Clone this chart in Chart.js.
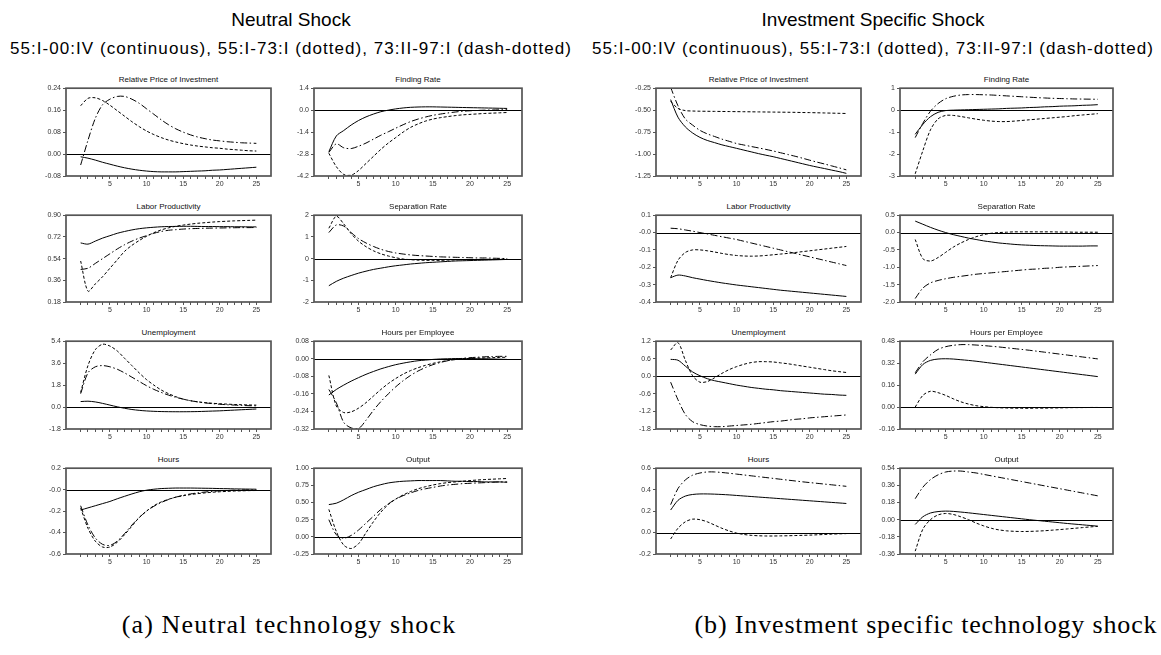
<!DOCTYPE html>
<html><head><meta charset="utf-8">
<script src="https://cdn.jsdelivr.net/npm/chart.js@4.4.1/dist/chart.umd.min.js"></script>
<style>
body{margin:0;background:#fff;width:1161px;height:655px;position:relative;overflow:hidden;font-family:"Liberation Sans",Arial,sans-serif;}
.h{position:absolute;text-align:center;color:#000;white-space:nowrap}
.pt{position:absolute;text-align:center;font-size:8px;line-height:10px;color:#111;white-space:nowrap}
canvas{position:absolute}
.cap{font-family:'Liberation Serif',serif;font-size:26px;line-height:30px;letter-spacing:1px}
.sub{font-size:17px;line-height:18px;letter-spacing:1.05px}
</style></head><body>
<div class="h" style="left:0;width:582px;top:8px;font-size:19px;line-height:24px">Neutral Shock</div>
<div class="h sub" style="left:0;width:582px;top:40px">55:I-00:IV (continuous), 55:I-73:I (dotted), 73:II-97:I (dash-dotted)</div>
<div class="h" style="left:583px;width:580px;top:8px;font-size:19px;line-height:24px">Investment Specific Shock</div>
<div class="h sub" style="left:583px;width:580px;top:40px">55:I-00:IV (continuous), 55:I-73:I (dotted), 73:II-97:I (dash-dotted)</div>
<div class="h cap" style="left:-1px;width:580px;top:610px;letter-spacing:1.15px">(a) Neutral technology shock</div>
<div class="h cap" style="left:636px;width:580px;top:610px;letter-spacing:0.85px">(b) Investment specific technology shock</div>
<script>
const periods=[1,2,3,4,5,6,7,8,9,10,11,12,13,14,15,16,17,18,19,20,21,22,23,24,25];

// ---- Neutral shock ----
const nRelPriceCont=[-0.01,-0.015,-0.022,-0.03,-0.037,-0.044,-0.05,-0.055,-0.059,-0.062,-0.064,-0.065,-0.065,-0.065,-0.064,-0.063,-0.062,-0.061,-0.059,-0.058,-0.056,-0.054,-0.052,-0.05,-0.048];
const nRelPriceDot=[0.176,0.203,0.205,0.195,0.178,0.158,0.138,0.118,0.1,0.084,0.071,0.06,0.051,0.044,0.038,0.033,0.029,0.026,0.023,0.021,0.018,0.016,0.014,0.012,0.011];
const nRelPriceDash=[-0.04,0.05,0.13,0.18,0.2,0.21,0.21,0.2,0.185,0.165,0.145,0.125,0.107,0.092,0.08,0.07,0.062,0.056,0.051,0.048,0.045,0.043,0.041,0.04,0.039];
const nRelPriceTicks=[-0.08,0,0.08,0.16,0.24];
const nRelPriceLabels=["-0.08","0.00","0.08","0.16","0.24"];

const nFindCont=[-2.65,-1.65,-1.3,-0.95,-0.66,-0.43,-0.25,-0.1,0.0,0.08,0.14,0.18,0.2,0.21,0.21,0.2,0.19,0.18,0.17,0.16,0.15,0.14,0.13,0.12,0.11];
const nFindDot=[-2.75,-3.6,-4.1,-4.15,-3.85,-3.4,-2.95,-2.5,-2.1,-1.75,-1.4,-1.1,-0.88,-0.7,-0.57,-0.48,-0.41,-0.35,-0.3,-0.27,-0.24,-0.21,-0.19,-0.17,-0.15];
const nFindDash=[-2.7,-2.15,-2.4,-2.45,-2.3,-2.1,-1.85,-1.6,-1.38,-1.15,-0.93,-0.73,-0.57,-0.44,-0.33,-0.25,-0.18,-0.12,-0.07,-0.04,-0.02,0.0,0.01,0.02,0.03];
const nFindTicks=[-4.2,-2.8,-1.4,0,1.4];
const nFindLabels=["-4.2","-2.8","-1.4","0.0","1.4"];

const nProdCont=[0.67,0.66,0.685,0.71,0.73,0.75,0.765,0.778,0.788,0.795,0.8,0.804,0.806,0.807,0.808,0.808,0.807,0.806,0.806,0.805,0.805,0.804,0.804,0.803,0.803];
const nProdDot=[0.52,0.27,0.33,0.39,0.46,0.53,0.6,0.65,0.69,0.725,0.755,0.778,0.795,0.808,0.818,0.826,0.833,0.838,0.843,0.847,0.85,0.853,0.855,0.857,0.859];
const nProdDash=[0.45,0.46,0.5,0.54,0.58,0.62,0.655,0.685,0.71,0.73,0.75,0.765,0.775,0.78,0.785,0.788,0.79,0.792,0.793,0.794,0.795,0.796,0.797,0.797,0.798];
const nProdTicks=[0.18,0.36,0.54,0.72,0.9];
const nProdLabels=["0.18","0.36","0.54","0.72","0.90"];

const nSepCont=[-1.25,-1.05,-0.9,-0.78,-0.67,-0.58,-0.5,-0.44,-0.38,-0.33,-0.29,-0.25,-0.22,-0.19,-0.17,-0.15,-0.13,-0.11,-0.1,-0.09,-0.08,-0.07,-0.06,-0.05,-0.04];
const nSepDot=[1.4,1.95,1.6,1.15,0.8,0.55,0.36,0.22,0.12,0.04,-0.02,-0.05,-0.07,-0.08,-0.08,-0.08,-0.07,-0.06,-0.05,-0.04,-0.04,-0.03,-0.03,-0.02,-0.02];
const nSepDash=[1.2,1.55,1.5,1.2,0.92,0.72,0.56,0.43,0.33,0.26,0.21,0.17,0.14,0.12,0.1,0.08,0.07,0.06,0.05,0.04,0.03,0.03,0.02,0.01,0.0];
const nSepTicks=[-2,-1,0,1,2];
const nSepLabels=["-2","-1","0","1","2"];

const nUnempCont=[0.45,0.48,0.42,0.3,0.16,0.02,-0.1,-0.2,-0.27,-0.32,-0.35,-0.37,-0.38,-0.385,-0.385,-0.38,-0.37,-0.35,-0.33,-0.31,-0.28,-0.25,-0.22,-0.19,-0.16];
const nUnempDot=[1.2,3.4,4.7,5.15,5.0,4.6,4.0,3.4,2.8,2.25,1.8,1.4,1.1,0.85,0.65,0.52,0.43,0.36,0.31,0.27,0.24,0.21,0.19,0.17,0.16];
const nUnempDash=[1.1,2.8,3.3,3.4,3.3,3.1,2.8,2.45,2.1,1.75,1.45,1.2,0.98,0.8,0.65,0.52,0.42,0.34,0.28,0.23,0.19,0.16,0.13,0.11,0.1];
const nUnempTicks=[-1.8,0,1.8,3.6,5.4];
const nUnempLabels=["-1.8","0.0","1.8","3.6","5.4"];

const nHpeCont=[-0.165,-0.14,-0.12,-0.102,-0.086,-0.071,-0.058,-0.046,-0.036,-0.027,-0.02,-0.014,-0.009,-0.006,-0.003,-0.001,0.0,0.001,0.001,0.001,0.0,0.0,-0.001,-0.002,-0.003];
const nHpeDot=[-0.076,-0.215,-0.245,-0.242,-0.225,-0.2,-0.17,-0.14,-0.113,-0.09,-0.07,-0.054,-0.041,-0.03,-0.021,-0.014,-0.008,-0.004,-0.001,0.001,0.003,0.004,0.005,0.006,0.007];
const nHpeDash=[-0.14,-0.2,-0.29,-0.315,-0.318,-0.28,-0.235,-0.195,-0.16,-0.128,-0.1,-0.076,-0.056,-0.04,-0.027,-0.017,-0.009,-0.003,0.002,0.005,0.007,0.009,0.01,0.011,0.011];
const nHpeTicks=[-0.32,-0.24,-0.16,-0.08,0,0.08];
const nHpeLabels=["-0.32","-0.24","-0.16","-0.08","0.00","0.08"];

const nHoursCont=[-0.19,-0.17,-0.15,-0.13,-0.11,-0.085,-0.062,-0.04,-0.02,-0.005,0.004,0.01,0.013,0.015,0.015,0.015,0.014,0.013,0.012,0.01,0.009,0.007,0.006,0.005,0.004];
const nHoursDot=[-0.17,-0.36,-0.48,-0.535,-0.535,-0.49,-0.42,-0.34,-0.26,-0.2,-0.15,-0.115,-0.09,-0.07,-0.057,-0.046,-0.037,-0.03,-0.024,-0.02,-0.016,-0.013,-0.011,-0.009,-0.008];
const nHoursDash=[-0.15,-0.33,-0.45,-0.51,-0.52,-0.48,-0.41,-0.33,-0.26,-0.2,-0.155,-0.12,-0.092,-0.07,-0.053,-0.04,-0.03,-0.022,-0.016,-0.011,-0.008,-0.005,-0.003,-0.002,-0.001];
const nHoursTicks=[-0.6,-0.4,-0.2,0,0.2];
const nHoursLabels=["-0.6","-0.4","-0.2","-0.0","0.2"];

const nOutCont=[0.47,0.49,0.54,0.6,0.65,0.69,0.73,0.76,0.785,0.8,0.81,0.815,0.82,0.82,0.82,0.82,0.815,0.81,0.81,0.805,0.805,0.8,0.8,0.8,0.795];
const nOutDot=[0.4,0.08,-0.12,-0.17,-0.1,0.06,0.22,0.36,0.47,0.55,0.61,0.66,0.7,0.73,0.755,0.775,0.79,0.8,0.81,0.82,0.828,0.835,0.84,0.845,0.85];
const nOutDash=[0.25,0.03,-0.02,0.02,0.1,0.2,0.3,0.4,0.48,0.55,0.6,0.64,0.675,0.7,0.72,0.74,0.755,0.765,0.775,0.78,0.785,0.79,0.795,0.8,0.8];
const nOutTicks=[-0.25,0,0.25,0.5,0.75,1.0];
const nOutLabels=["-0.25","0.00","0.25","0.50","0.75","1.00"];

// ---- Investment specific shock ----
const iRelPriceCont=[-0.38,-0.58,-0.69,-0.76,-0.81,-0.845,-0.87,-0.895,-0.915,-0.935,-0.955,-0.975,-0.995,-1.013,-1.03,-1.05,-1.07,-1.09,-1.11,-1.13,-1.148,-1.165,-1.183,-1.2,-1.22];
const iRelPriceDot=[-0.4,-0.48,-0.505,-0.51,-0.512,-0.513,-0.514,-0.515,-0.516,-0.517,-0.518,-0.519,-0.52,-0.521,-0.522,-0.523,-0.524,-0.525,-0.527,-0.528,-0.53,-0.532,-0.534,-0.536,-0.538];
const iRelPriceDash=[-0.24,-0.45,-0.6,-0.67,-0.73,-0.77,-0.8,-0.83,-0.855,-0.88,-0.897,-0.914,-0.93,-0.947,-0.965,-0.985,-1.005,-1.025,-1.047,-1.07,-1.092,-1.113,-1.135,-1.157,-1.18];
const iRelPriceTicks=[-1.25,-1.0,-0.75,-0.5,-0.25];
const iRelPriceLabels=["-1.25","-1.00","-0.75","-0.50","-0.25"];

const iFindCont=[-1.1,-0.65,-0.3,-0.1,-0.02,0.0,0.01,0.02,0.03,0.04,0.05,0.06,0.08,0.09,0.1,0.12,0.13,0.15,0.16,0.18,0.19,0.2,0.22,0.23,0.25];
const iFindDot=[-2.9,-1.85,-0.9,-0.4,-0.24,-0.24,-0.29,-0.35,-0.41,-0.46,-0.5,-0.52,-0.52,-0.5,-0.47,-0.44,-0.41,-0.38,-0.35,-0.32,-0.29,-0.25,-0.22,-0.19,-0.16];
const iFindDash=[-1.25,-0.6,-0.05,0.3,0.52,0.63,0.69,0.71,0.71,0.7,0.69,0.67,0.65,0.63,0.61,0.59,0.57,0.555,0.54,0.53,0.52,0.51,0.505,0.5,0.495];
const iFindTicks=[-3,-2,-1,0,1];
const iFindLabels=["-3","-2","-1","0","1"];

const iProdCont=[-0.26,-0.245,-0.25,-0.26,-0.268,-0.276,-0.283,-0.29,-0.296,-0.302,-0.307,-0.312,-0.317,-0.322,-0.327,-0.332,-0.336,-0.34,-0.344,-0.348,-0.352,-0.356,-0.36,-0.364,-0.368];
const iProdDot=[-0.26,-0.16,-0.115,-0.1,-0.1,-0.105,-0.112,-0.12,-0.127,-0.132,-0.135,-0.136,-0.135,-0.132,-0.128,-0.124,-0.12,-0.115,-0.11,-0.105,-0.1,-0.095,-0.09,-0.085,-0.08];
const iProdDash=[0.025,0.022,0.015,0.008,0.0,-0.008,-0.016,-0.024,-0.032,-0.04,-0.05,-0.06,-0.07,-0.08,-0.09,-0.1,-0.11,-0.12,-0.13,-0.14,-0.15,-0.16,-0.17,-0.18,-0.19];
const iProdTicks=[-0.4,-0.3,-0.2,-0.1,0,0.1];
const iProdLabels=["-0.4","-0.3","-0.2","-0.1","-0.0","0.1"];

const iSepCont=[0.33,0.24,0.15,0.07,0.0,-0.06,-0.11,-0.16,-0.2,-0.24,-0.27,-0.3,-0.32,-0.34,-0.355,-0.365,-0.375,-0.38,-0.385,-0.39,-0.39,-0.39,-0.39,-0.385,-0.385];
const iSepDot=[-0.2,-0.75,-0.82,-0.72,-0.57,-0.42,-0.3,-0.2,-0.12,-0.06,-0.02,0.0,0.01,0.02,0.02,0.02,0.02,0.02,0.02,0.015,0.015,0.01,0.01,0.01,0.01];
const iSepDash=[-1.9,-1.6,-1.45,-1.38,-1.33,-1.29,-1.26,-1.23,-1.2,-1.18,-1.16,-1.14,-1.12,-1.1,-1.08,-1.06,-1.05,-1.03,-1.02,-1.0,-0.99,-0.98,-0.97,-0.96,-0.95];
const iSepTicks=[-2.0,-1.5,-1.0,-0.5,0,0.5];
const iSepLabels=["-2.0","-1.5","-1.0","-0.5","0.0","0.5"];

const iUnempCont=[0.58,0.55,0.35,0.15,0.02,-0.08,-0.15,-0.2,-0.25,-0.3,-0.34,-0.38,-0.41,-0.44,-0.46,-0.49,-0.51,-0.53,-0.55,-0.57,-0.59,-0.61,-0.62,-0.64,-0.65];
const iUnempDot=[0.9,1.15,0.55,0.02,-0.2,-0.18,-0.05,0.1,0.23,0.33,0.41,0.47,0.5,0.5,0.49,0.46,0.43,0.39,0.35,0.31,0.27,0.23,0.19,0.16,0.13];
const iUnempDash=[-0.2,-0.8,-1.3,-1.55,-1.65,-1.7,-1.72,-1.72,-1.7,-1.68,-1.66,-1.64,-1.61,-1.58,-1.55,-1.53,-1.5,-1.47,-1.45,-1.42,-1.4,-1.38,-1.36,-1.34,-1.32];
const iUnempTicks=[-1.8,-1.2,-0.6,0,0.6,1.2];
const iUnempLabels=["-1.8","-1.2","-0.6","0.0","0.6","1.2"];

const iHpeCont=[0.24,0.31,0.34,0.35,0.352,0.35,0.345,0.34,0.334,0.327,0.32,0.313,0.306,0.299,0.292,0.285,0.278,0.271,0.264,0.257,0.25,0.243,0.236,0.229,0.222];
const iHpeDot=[0.0,0.085,0.115,0.105,0.085,0.06,0.038,0.022,0.01,0.003,-0.002,-0.005,-0.007,-0.008,-0.009,-0.009,-0.008,-0.008,-0.007,-0.006,-0.005,-0.004,-0.004,-0.003,-0.003];
const iHpeDash=[0.25,0.33,0.38,0.42,0.44,0.45,0.455,0.455,0.452,0.448,0.443,0.438,0.432,0.426,0.42,0.414,0.407,0.4,0.393,0.386,0.379,0.372,0.365,0.358,0.351];
const iHpeTicks=[-0.16,0,0.16,0.32,0.48];
const iHpeLabels=["-0.16","0.00","0.16","0.32","0.48"];

const iHoursCont=[0.21,0.3,0.34,0.355,0.36,0.36,0.358,0.355,0.351,0.346,0.341,0.336,0.331,0.326,0.321,0.316,0.311,0.306,0.301,0.296,0.291,0.286,0.281,0.276,0.271];
const iHoursDot=[-0.06,0.04,0.1,0.125,0.12,0.1,0.07,0.04,0.015,-0.005,-0.018,-0.026,-0.03,-0.032,-0.032,-0.031,-0.03,-0.028,-0.026,-0.024,-0.021,-0.018,-0.015,-0.012,-0.01];
const iHoursDash=[0.26,0.41,0.49,0.535,0.555,0.565,0.565,0.56,0.553,0.545,0.537,0.529,0.521,0.513,0.505,0.497,0.489,0.481,0.473,0.466,0.459,0.452,0.445,0.438,0.431];
const iHoursTicks=[-0.2,0,0.2,0.4,0.6];
const iHoursLabels=["-0.2","0.0","0.2","0.4","0.6"];

const iOutCont=[-0.05,0.03,0.07,0.085,0.09,0.087,0.08,0.072,0.063,0.054,0.045,0.036,0.027,0.018,0.009,0.0,-0.008,-0.016,-0.024,-0.032,-0.04,-0.047,-0.054,-0.061,-0.068];
const iOutDot=[-0.33,-0.1,0.0,0.05,0.065,0.055,0.03,0.0,-0.035,-0.065,-0.09,-0.107,-0.117,-0.122,-0.124,-0.123,-0.12,-0.116,-0.11,-0.104,-0.097,-0.09,-0.083,-0.076,-0.07];
const iOutDash=[0.22,0.34,0.42,0.47,0.5,0.51,0.51,0.5,0.49,0.475,0.46,0.445,0.43,0.415,0.4,0.385,0.37,0.355,0.34,0.325,0.31,0.295,0.28,0.265,0.25];
const iOutTicks=[-0.36,-0.18,0,0.18,0.36,0.54];
const iOutLabels=["-0.36","-0.18","0.00","0.18","0.36","0.54"];

const panelTitles=["Relative Price of Investment","Finding Rate","Labor Productivity","Separation Rate","Unemployment","Hours per Employee","Hours","Output"];

const panels=[
 [0,0,0,nRelPriceCont,nRelPriceDot,nRelPriceDash,nRelPriceTicks,nRelPriceLabels],
 [1,0,1,nFindCont,nFindDot,nFindDash,nFindTicks,nFindLabels],
 [2,1,0,nProdCont,nProdDot,nProdDash,nProdTicks,nProdLabels],
 [3,1,1,nSepCont,nSepDot,nSepDash,nSepTicks,nSepLabels],
 [4,2,0,nUnempCont,nUnempDot,nUnempDash,nUnempTicks,nUnempLabels],
 [5,2,1,nHpeCont,nHpeDot,nHpeDash,nHpeTicks,nHpeLabels],
 [6,3,0,nHoursCont,nHoursDot,nHoursDash,nHoursTicks,nHoursLabels],
 [7,3,1,nOutCont,nOutDot,nOutDash,nOutTicks,nOutLabels],
 [0,0,2,iRelPriceCont,iRelPriceDot,iRelPriceDash,iRelPriceTicks,iRelPriceLabels],
 [1,0,3,iFindCont,iFindDot,iFindDash,iFindTicks,iFindLabels],
 [2,1,2,iProdCont,iProdDot,iProdDash,iProdTicks,iProdLabels],
 [3,1,3,iSepCont,iSepDot,iSepDash,iSepTicks,iSepLabels],
 [4,2,2,iUnempCont,iUnempDot,iUnempDash,iUnempTicks,iUnempLabels],
 [5,2,3,iHpeCont,iHpeDot,iHpeDash,iHpeTicks,iHpeLabels],
 [6,3,2,iHoursCont,iHoursDot,iHoursDash,iHoursTicks,iHoursLabels],
 [7,3,3,iOutCont,iOutDot,iOutDash,iOutTicks,iOutLabels]
];

const COLS=[[66,271],[314,522],[656,861],[900,1113]];
const ROWS=[[88,176],[215,302],[341,429],[468,554]];
const YW=40, XH=18, PT=6, PR=6;

Chart.defaults.font.family='"Liberation Sans", Arial, sans-serif';

const framePlugin={
 id:'frame',
 beforeDatasetsDraw(chart){
   const ca=chart.chartArea, ctx=chart.ctx, y=chart.scales.y.getPixelForValue(0);
   ctx.save();ctx.strokeStyle='#000';ctx.lineWidth=1;
   ctx.beginPath();ctx.moveTo(ca.left,Math.round(y)+0.5);ctx.lineTo(ca.right,Math.round(y)+0.5);ctx.stroke();ctx.restore();
 },
 afterDraw(chart){
   const ca=chart.chartArea, ctx=chart.ctx;
   ctx.save();ctx.strokeStyle='#555';ctx.lineWidth=1.7;
   ctx.strokeRect(ca.left,ca.top,ca.right-ca.left,ca.bottom-ca.top);ctx.restore();
 }
};

panels.forEach(p=>{
  const [ti,row,col,cont,dot,dash,ticks,labels]=p;
  const L=COLS[col][0],R=COLS[col][1],T=ROWS[row][0],B=ROWS[row][1];
  const t=document.createElement('div');
  t.className='pt';t.textContent=panelTitles[ti];
  t.style.left=L+'px';t.style.width=(R-L)+'px';t.style.top=(T-13)+'px';
  document.body.appendChild(t);
  const c=document.createElement('canvas');
  const w=(R-L)+YW+PR,h=(B-T)+PT+XH;
  c.width=w;c.height=h;c.style.left=(L-YW)+'px';c.style.top=(T-PT)+'px';
  c.style.width=w+'px';c.style.height=h+'px';
  document.body.appendChild(c);
  const mk=(arr,dashP)=>({data:periods.map((x,i)=>({x:x,y:arr[i]})),borderColor:'#000',borderWidth:1,borderDash:dashP,pointRadius:0,tension:0.3,fill:false});
  new Chart(c,{type:'line',
    data:{datasets:[mk(cont,[]),mk(dot,[3,2]),mk(dash,[7,2.5,1.5,2.5])]},
    options:{responsive:false,animation:false,devicePixelRatio:1,
      layout:{padding:{top:PT,right:PR,left:0,bottom:0}},
      plugins:{legend:{display:false},tooltip:{enabled:false}},
      scales:{
        x:{type:'linear',min:-1,max:27,
           afterBuildTicks:s=>{s.ticks=periods.map(v=>({value:v}));},
           afterFit:s=>{s.height=XH;},
           ticks:{autoSkip:false,maxRotation:0,padding:1,font:{size:7},color:'#333',callback:v=>(v%5===0?String(v):'')},
           grid:{drawOnChartArea:false,drawTicks:true,tickLength:3,color:'#555'},
           border:{display:false}},
        y:{type:'linear',min:ticks[0],max:ticks[ticks.length-1],
           afterBuildTicks:s=>{s.ticks=ticks.map(v=>({value:v}));},
           afterFit:s=>{s.width=YW;},
           ticks:{autoSkip:false,padding:2,font:{size:7},color:'#333',callback:(v,i)=>labels[i]},
           grid:{drawOnChartArea:false,drawTicks:true,tickLength:3,color:'#555'},
           border:{display:false}}
      }},
    plugins:[framePlugin]});
});
</script>
</body></html>
